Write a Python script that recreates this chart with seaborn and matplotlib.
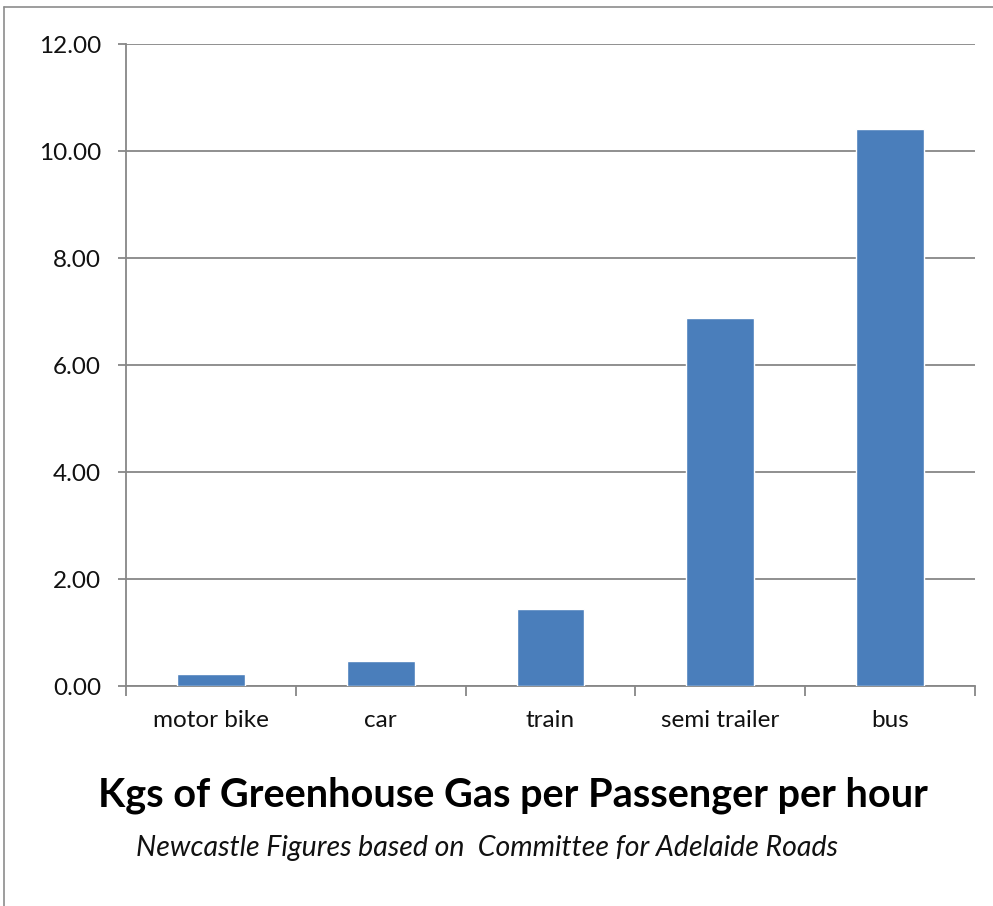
import matplotlib
matplotlib.use("Agg")
import matplotlib.pyplot as plt
from matplotlib.lines import Line2D
from matplotlib.ticker import FixedLocator, FormatStrFormatter
import seaborn as sns
import pandas as pd

modes = ["motor bike", "car", "train", "semi trailer", "bus"]
kgs_per_passenger_hour = [0.22, 0.47, 1.44, 6.88, 10.42]
y_ticks = [0, 2, 4, 6, 8, 10, 12]

title_text = "Kgs of Greenhouse Gas per Passenger per hour"
subtitle_text = "Newcastle Figures based on  Committee for Adelaide Roads"

sns.set_theme(style="white")
plt.rcParams["font.family"] = ["Lato", "DejaVu Sans"]

df = pd.DataFrame({"mode": modes, "kgs": kgs_per_passenger_hour})

fig = plt.figure(figsize=(9.93, 9.06), dpi=100)
ax = fig.add_axes([0.1269, 0.2428, 0.8550, 0.7086])

bar_color = "#4A7EBB"
grid_color = "#878787"

sns.barplot(data=df, x="mode", y="kgs", color=bar_color, width=0.4,
            saturation=1, ax=ax, zorder=3)

ax.set_xlim(-0.5, len(modes) - 0.5)
ax.set_ylim(0, 12)
ax.yaxis.set_major_locator(FixedLocator(y_ticks))
ax.yaxis.set_major_formatter(FormatStrFormatter("%.2f"))
ax.grid(axis="y", color=grid_color, linewidth=1.3, zorder=0)
ax.set_axisbelow(True)

for side in ["top", "right"]:
    ax.spines[side].set_visible(False)
for side in ["left", "bottom"]:
    ax.spines[side].set_color(grid_color)
    ax.spines[side].set_linewidth(1.3)

ax.set_xlabel("")
ax.set_ylabel("")
ax.tick_params(axis="y", which="major", length=6, width=1.3, color=grid_color,
               direction="out", left=True, labelsize=17.5, pad=12, labelcolor="#111111")
ax.tick_params(axis="x", which="major", length=0, labelsize=17.5, pad=17,
               labelcolor="#111111")
ax.xaxis.set_minor_locator(FixedLocator([i - 0.5 for i in range(len(modes) + 1)]))
ax.tick_params(axis="x", which="minor", length=7, width=1.3, color=grid_color,
               direction="out", bottom=True)

fig.text(0.517, 0.1225, title_text, ha="center", va="center",
         fontsize=28.5, fontweight="bold", color="#000000")
fig.text(0.49, 0.064, subtitle_text, ha="center", va="center",
         fontsize=20.5, style="italic", color="#111111")

# outer frame of the chart area
frame_color = "#8C8C8C"
fig.add_artist(Line2D([0.004, 0.004], [0.0, 0.992], transform=fig.transFigure,
                      color=frame_color, linewidth=1.2))
fig.add_artist(Line2D([0.004, 1.0], [0.992, 0.992], transform=fig.transFigure,
                      color=frame_color, linewidth=1.2))

fig.savefig("out.png", dpi=100, facecolor="white")
